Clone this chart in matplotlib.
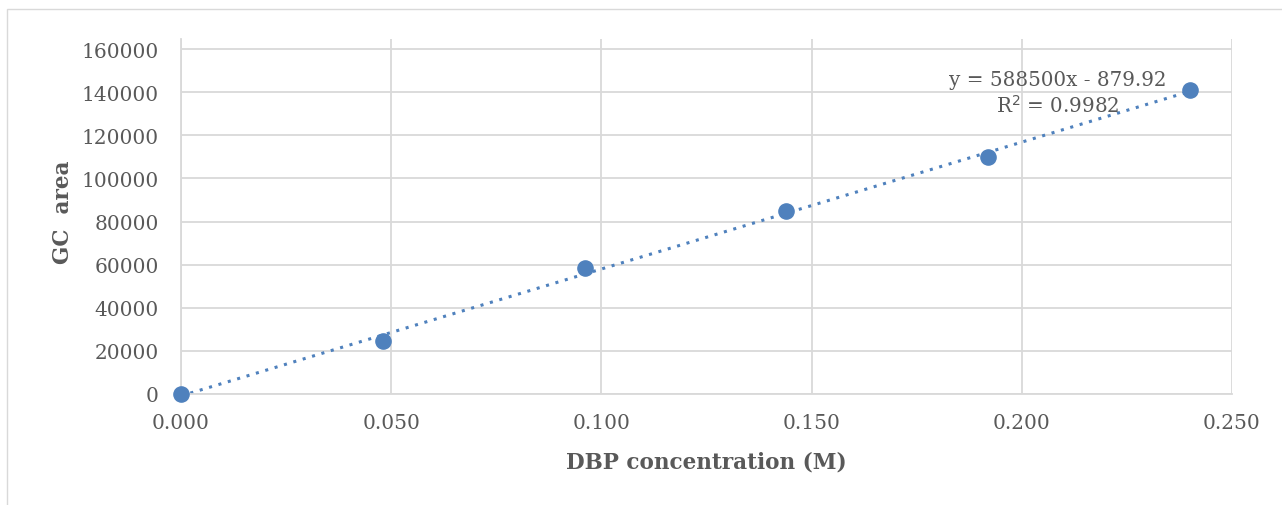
import matplotlib
matplotlib.use("Agg")
import matplotlib.pyplot as plt
import numpy as np

conc = [0.000, 0.048, 0.096, 0.144, 0.192, 0.240]
area = [0, 24500, 58500, 85000, 110000, 141000]
slope = 588500
intercept = -879.92
r2 = 0.9982
xticks = [0.000, 0.050, 0.100, 0.150, 0.200, 0.250]
yticks = [0, 20000, 40000, 60000, 80000, 100000, 120000, 140000, 160000]

plt.rcParams['font.family'] = ['DejaVu Serif']
txt = '#595959'
grid = '#D9D9D9'
blue = '#4F81BD'

fig = plt.figure(figsize=(12.82, 5.06), dpi=100)
# outer chart frame
fig.patches.append(plt.Rectangle((7/1282, -0.01), 1.1, 1 - 10/506 + 0.01, transform=fig.transFigure,
                                 fill=False, edgecolor=grid, lw=1))
ax = fig.add_axes([181/1282, 1 - 395/506, (1232 - 181)/1282, (395 - 40)/506])
ax.set_xlim(0, 0.25)
ax.set_ylim(0, 160000 * (395 - 40) / (395 - 50))
ax.set_xticks(xticks)
ax.set_yticks(yticks)
ax.set_xticklabels([f"{v:.3f}" for v in xticks])
ax.set_yticklabels([f"{v}" for v in yticks])
ax.grid(True, color=grid, lw=1.3)
ax.set_axisbelow(True)
for s in ['top', 'right']:
    ax.spines[s].set_visible(False)
for s in ['left', 'bottom']:
    ax.spines[s].set_color(grid)
    ax.spines[s].set_linewidth(1.3)
ax.tick_params(length=0, labelsize=14.5, colors=txt)
ax.tick_params(axis='y', pad=16)
ax.tick_params(axis='x', pad=14)

xs = np.array([conc[0], conc[-1]])
ax.plot(xs, slope * xs + intercept, linestyle=(0, (1, 2.2)), color=blue, lw=2.2, zorder=2)
ax.scatter(conc, area, s=120, color=blue, zorder=3, clip_on=False)

ax.text(1058/1282, 1 - 80/506, f"y = {slope}x - {abs(intercept)}", transform=fig.transFigure,
        ha='center', va='center', fontsize=14.3, color=txt)
ax.text(1058/1282, 1 - 106/506, f"R$^2$ = {r2}", transform=fig.transFigure,
        ha='center', va='center', fontsize=14.3, color=txt)

fig.text(63/1282, 1 - 212/506, "GC  area", rotation=90, ha='center', va='center',
         fontsize=15.5, fontweight='bold', color=txt)
fig.text(706/1282, 1 - 463/506, "DBP concentration (M)", ha='center', va='center',
         fontsize=15.5, fontweight='bold', color=txt)

fig.savefig("out.png", dpi=100)
